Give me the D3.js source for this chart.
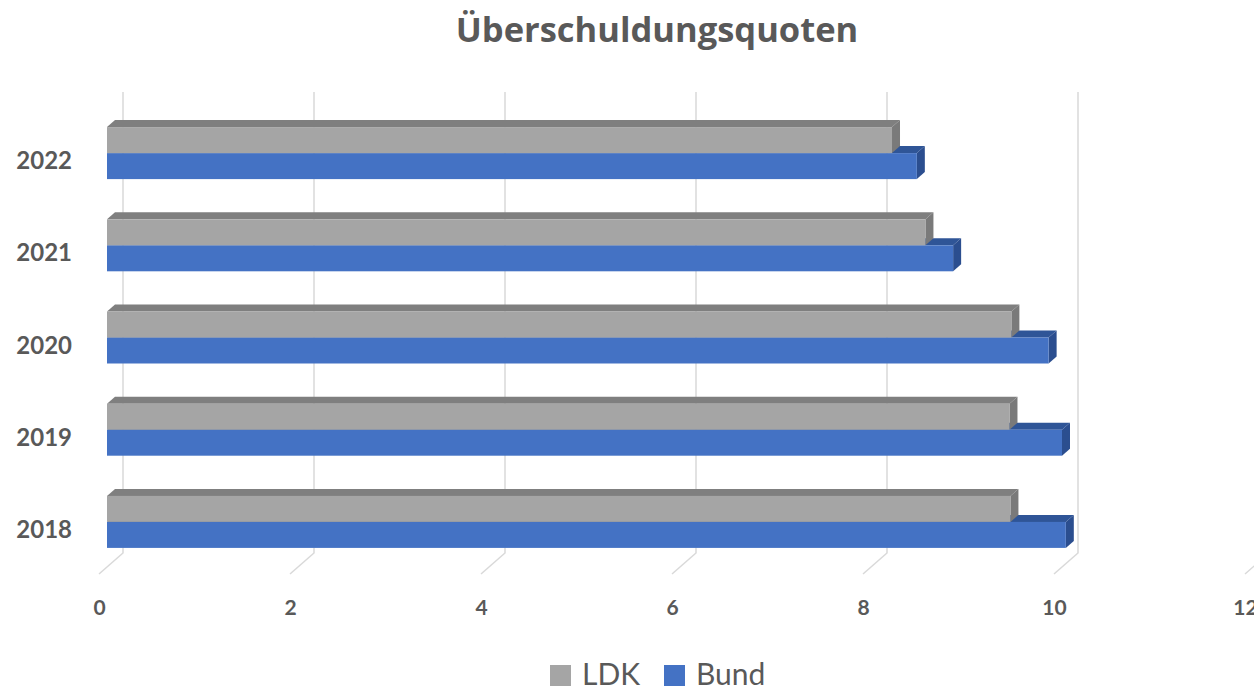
<!DOCTYPE html>
<meta charset="utf-8">
<head>
    <style>
        body { margin: 0; background: #fff; }
        text { font-family: Lato, "Open Sans", sans-serif; fill: #595959; }
        .grid { stroke: #d9d9d9; stroke-width: 1.5; fill: none; }
    </style>
    <script src="https://d3js.org/d3.v7.min.js"></script>
</head>
<body>
<svg id="chart"></svg>
<script>

    // Daten
    var years = ["2022", "2021", "2020", "2019", "2018"];
    var ldk   = [8.22, 8.57, 9.47, 9.45, 9.46];
    var bund  = [8.48, 8.86, 9.86, 10.00, 10.04];
    var series = ["LDK", "Bund"];
    var xTicks = [0, 2, 4, 6, 8, 10, 12];

    var width = 1254, height = 692;

    var svg = d3.select("#chart")
        .attr("width", width)
        .attr("height", height);

    // Farben: Front, Oberseite, Seite
    var colors = {
        LDK:  {front: "#a5a5a5", top: "#7f7f7f", side: "#7a7a7a"},
        Bund: {front: "#4472c4", top: "#2f5597", side: "#2b4e8f"}
    };

    // x-Skala auf der Rückwand
    var x = d3.scaleLinear().domain([0, 12]).range([123, 123 + 12 * 95.5]);

    // 3D Versatz (Rückwand -> Vorderkante)
    var depth = {dx: -24, dy: 21};
    var barFront = {dx: -16, dy: 0};   // Balkenfront relativ zur Rückwand
    var barDepth = {dx: 8, dy: -7};    // Tiefe des Balkens

    var y = d3.scaleBand()
        .domain(years)
        .range([107, 568])
        .paddingInner(0.436)
        .paddingOuter(0.218);

    var ySub = d3.scaleBand()
        .domain(series)
        .range([0, y.bandwidth()]);

    var gridTop = 92, gridBottom = 553;

    // Gitterlinien
    svg.append("g")
        .selectAll("path")
        .data(xTicks)
        .enter()
        .append("path")
        .attr("class", "grid")
        .attr("d", function(d){
            var xb = x(d);
            return "M" + xb + "," + gridTop + "L" + xb + "," + gridBottom +
                "L" + (xb + depth.dx) + "," + (gridBottom + depth.dy);
        });

    // Achsenbeschriftung (12 ist wie im Original am Rand angeschnitten)
    svg.append("g")
        .selectAll("text")
        .data(xTicks)
        .enter()
        .append("text")
        .attr("x", function(d){ return x(d) - 23.5; })
        .attr("y", 615)
        .attr("text-anchor", "middle")
        .style("font-size", "21px")
        .style("font-weight", "bold")
        .text(function(d){ return d; });

    // Balken
    function pts(arr){
        return arr.map(function(p){ return p.join(","); }).join(" ");
    }

    var groups = svg.append("g")
        .selectAll("g")
        .data(years)
        .enter()
        .append("g");

    groups.each(function(year, i){
        var g = d3.select(this);
        // Bund zuerst, damit LDK darüber liegt
        ["Bund", "LDK"].forEach(function(s){
            var v = s == "LDK" ? ldk[i] : bund[i];
            var x0 = x(0) + barFront.dx;
            var x1 = x(v) + barFront.dx;
            var y0 = y(year) + ySub(s);
            var h = ySub.bandwidth();
            var c = colors[s];

            g.append("polygon")
                .attr("points", pts([[x0, y0], [x0 + barDepth.dx, y0 + barDepth.dy],
                    [x1 + barDepth.dx, y0 + barDepth.dy], [x1, y0]]))
                .style("fill", c.top);

            g.append("polygon")
                .attr("points", pts([[x1, y0], [x1 + barDepth.dx, y0 + barDepth.dy],
                    [x1 + barDepth.dx, y0 + h + barDepth.dy], [x1, y0 + h]]))
                .style("fill", c.side);

            g.append("rect")
                .attr("x", x0)
                .attr("y", y0)
                .attr("width", x1 - x0)
                .attr("height", h)
                .style("fill", c.front);
        });
    });

    // Jahreszahlen
    svg.append("g")
        .selectAll("text")
        .data(years)
        .enter()
        .append("text")
        .attr("x", 72)
        .attr("y", function(d){ return y(d) + y.bandwidth() / 2 + 16; })
        .attr("text-anchor", "end")
        .style("font-size", "24px")
        .style("font-weight", "bold")
        .text(function(d){ return d; });

    // Titel
    svg.append("text")
        .attr("x", 657)
        .attr("y", 42)
        .attr("text-anchor", "middle")
        .style("font-family", "'Open Sans', sans-serif")
        .style("font-size", "34.5px")
        .style("font-weight", "bold")
        .text("Überschuldungsquoten");

    // Legende
    var legendX = [550, 664];
    var legend = svg.append("g")
        .selectAll("g")
        .data(series)
        .enter()
        .append("g")
        .attr("transform", function(d, i){ return "translate(" + legendX[i] + ",665)"; });

    legend.append("rect")
        .attr("width", 21)
        .attr("height", 21)
        .style("fill", function(d){ return colors[d].front; });

    legend.append("text")
        .attr("x", 32)
        .attr("y", 20)
        .style("font-size", "30px")
        .text(function(d){ return d; });

</script>
</body>
